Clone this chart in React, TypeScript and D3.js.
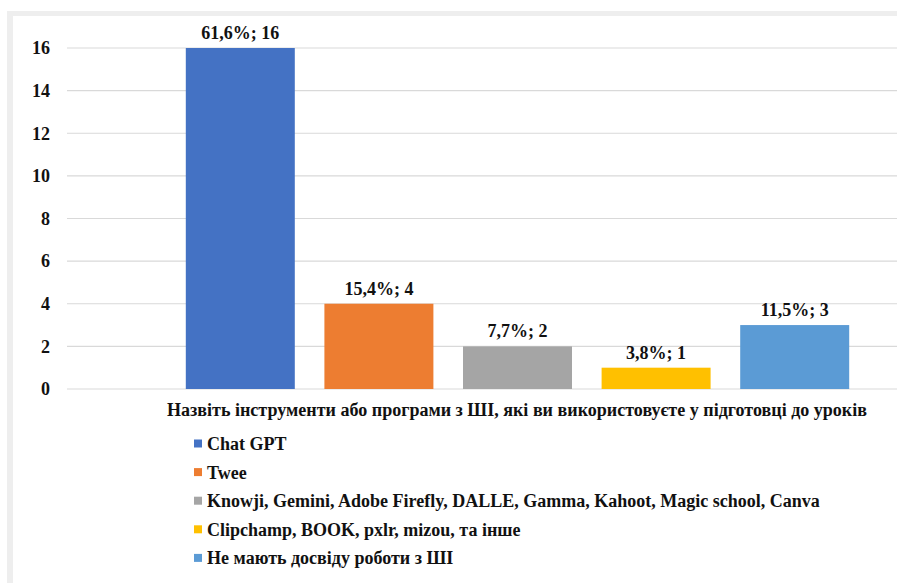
import React from "react";
import * as d3 from "d3";

const categories = [
  "Chat GPT",
  "Twee",
  "Knowji, Gemini, Adobe Firefly, DALLE, Gamma, Kahoot, Magic school, Canva",
  "Clipchamp, BOOK, pxlr, mizou, та інше",
  "Не мають досвіду роботи з ШІ",
];
const counts = [16, 4, 2, 1, 3];
const percents = ["61,6%", "15,4%", "7,7%", "3,8%", "11,5%"];
const colors = ["#4472C4", "#ED7D31", "#A5A5A5", "#FFC000", "#5B9BD5"];
const yTicks = [0, 2, 4, 6, 8, 10, 12, 14, 16];
const axisTitle =
  "Назвіть інструменти або програми з ШІ, які ви використовуєте у підготовці до уроків";

const W = 897;
const H = 583;
const FONT = "Liberation Serif, Times New Roman, serif";

export default function App() {
  const y = d3.scaleLinear().domain([0, 16]).range([389, 48]);
  const x = d3
    .scaleBand<string>()
    .domain(categories)
    .range([171, 864])
    .paddingInner(0.2136)
    .paddingOuter(0.1068);

  const ts: React.CSSProperties = { fontFamily: FONT, fontWeight: 700 };

  return (
    <svg
      width={W}
      height={H}
      style={{ position: "absolute", left: 0, top: 0, background: "#fff" }}
    >
      {/* frame */}
      <rect x={7} y={11} width={W - 7} height={H - 11} fill="#eeeeee" />
      <rect x={13} y={16} width={W - 13} height={H - 16} fill="#ffffff" />

      {/* gridlines */}
      {yTicks.map((t) => (
        <line
          key={t}
          x1={67}
          x2={W}
          y1={y(t)}
          y2={y(t)}
          stroke="#d9d9d9"
          strokeWidth={1.2}
        />
      ))}
      {/* y tick labels */}
      {yTicks.map((t) => (
        <text
          key={"l" + t}
          x={50}
          y={y(t)}
          dy="0.35em"
          textAnchor="end"
          fontSize={18}
          fill="#111"
          style={ts}
        >
          {t}
        </text>
      ))}

      {/* bars */}
      {categories.map((c, i) => (
        <rect
          key={c}
          x={x(c)}
          y={y(counts[i])}
          width={x.bandwidth()}
          height={y(0) - y(counts[i])}
          fill={colors[i]}
        />
      ))}
      {/* data labels */}
      {categories.map((c, i) => (
        <text
          key={"d" + c}
          x={(x(c) as number) + x.bandwidth() / 2}
          y={y(counts[i]) - 9}
          textAnchor="middle"
          fontSize={18}
          fill="#111"
          style={ts}
        >
          {`${percents[i]}; ${counts[i]}`}
        </text>
      ))}

      {/* axis title */}
      <text
        x={167}
        y={416}
        fontSize={18}
        fill="#111"
        textLength={700}
        lengthAdjust="spacingAndGlyphs"
        style={ts}
      >
        {axisTitle}
      </text>

      {/* legend */}
      {categories.map((c, i) => {
        const cy = 444 + i * 28.6;
        return (
          <g key={"g" + c}>
            <rect x={194} y={cy - 4.5} width={8} height={8} fill={colors[i]} />
            <text x={207} y={cy + 6} fontSize={18} fill="#111" style={ts}>
              {c}
            </text>
          </g>
        );
      })}
    </svg>
  );
}
